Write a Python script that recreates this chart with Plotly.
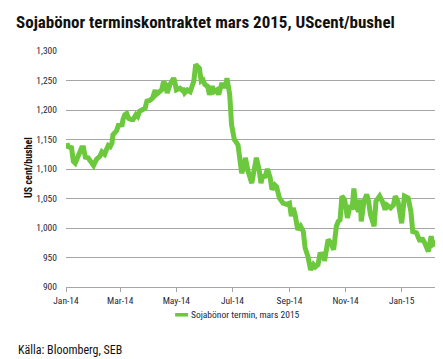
import plotly.graph_objects as go

dates = [
 "2014-01-02","2014-01-03","2014-01-07","2014-01-09","2014-01-11","2014-01-14","2014-01-18","2014-01-20",
 "2014-01-22","2014-01-25","2014-01-29","2014-01-31","2014-02-03","2014-02-07","2014-02-09","2014-02-12",
 "2014-02-14","2014-02-16","2014-02-18","2014-02-20","2014-02-21","2014-02-25","2014-02-27","2014-03-03",
 "2014-03-04","2014-03-06","2014-03-08","2014-03-10","2014-03-13","2014-03-15","2014-03-18","2014-03-20",
 "2014-03-22","2014-03-26","2014-03-28","2014-03-30","2014-04-02","2014-04-05","2014-04-08","2014-04-09",
 "2014-04-12","2014-04-15","2014-04-17","2014-04-19","2014-04-21","2014-04-24","2014-04-28","2014-04-29",
 "2014-05-01","2014-05-05","2014-05-07","2014-05-08","2014-05-10","2014-05-13","2014-05-16","2014-05-18",
 "2014-05-20","2014-05-22","2014-05-24","2014-05-26","2014-05-28","2014-05-30","2014-06-01","2014-06-04",
 "2014-06-06","2014-06-09","2014-06-11","2014-06-14","2014-06-16","2014-06-19","2014-06-22","2014-06-23",
 "2014-06-25","2014-06-28","2014-06-30","2014-07-03","2014-07-07","2014-07-11","2014-07-14","2014-07-15",
 "2014-07-18","2014-07-22","2014-07-25","2014-07-27","2014-07-30","2014-08-01","2014-08-03","2014-08-05",
 "2014-08-08","2014-08-11","2014-08-13","2014-08-16","2014-08-18","2014-08-21","2014-08-25","2014-08-29",
 "2014-09-01","2014-09-03","2014-09-05","2014-09-07","2014-09-10","2014-09-13","2014-09-16","2014-09-18",
 "2014-09-21","2014-09-24","2014-09-27","2014-09-29","2014-10-02","2014-10-04","2014-10-08","2014-10-09",
 "2014-10-13","2014-10-16","2014-10-19","2014-10-22","2014-10-24","2014-10-26","2014-10-28","2014-10-31",
 "2014-11-03","2014-11-06","2014-11-08","2014-11-10","2014-11-12","2014-11-15","2014-11-17","2014-11-18",
 "2014-11-21","2014-11-24","2014-11-26","2014-11-28","2014-12-02","2014-12-04","2014-12-08","2014-12-11",
 "2014-12-14","2014-12-16","2014-12-20","2014-12-23","2014-12-25","2014-12-28","2015-01-01","2015-01-04",
 "2015-01-08","2015-01-11","2015-01-13","2015-01-17","2015-01-21","2015-01-23","2015-01-26","2015-01-30",
 "2015-02-02","2015-02-04","2015-02-07","2015-02-09","2015-02-11","2015-02-14","2015-02-16",
]
prices = [
 1144,1138,1136,1113,1110,1124,1136,1136,
 1120,1119,1110,1106,1116,1122,1129,1125,
 1133,1140,1138,1144,1158,1165,1174,1175,
 1184,1192,1194,1186,1184,1184,1192,1189,
 1198,1200,1203,1215,1216,1220,1234,1226,
 1231,1234,1248,1244,1229,1243,1254,1250,
 1234,1237,1234,1237,1229,1234,1231,1243,
 1249,1277,1274,1271,1249,1251,1243,1240,
 1226,1240,1231,1234,1226,1243,1243,1237,
 1254,1226,1175,1150,1141,1093,1105,1119,
 1096,1076,1102,1119,1099,1076,1090,1085,
 1100,1085,1065,1073,1070,1051,1042,1040,
 1042,1020,1034,1023,997,1003,994,966,
 952,929,938,934,938,955,956,944,
 980,975,963,1003,1011,1014,1054,1048,
 1017,1039,1031,1067,1039,1028,1048,1011,
 1045,1057,1045,1023,1003,1045,1054,1045,
 1031,1039,1034,1039,1054,1045,1008,1054,
 1051,1028,994,992,977,983,975,960,
 986,972,975,969,986,992,999,
]
tick_dates = ["2014-01-01","2014-03-01","2014-05-01","2014-07-01","2014-09-01","2014-11-01","2015-01-01"]
tick_labels = ["Jan-14","Mar-14","May-14","Jul-14","Sep-14","Nov-14","Jan-15"]
y_ticks = [900, 950, 1000, 1050, 1100, 1150, 1200, 1250, 1300]
y_labels = ["900", "950", "1,000", "1,050", "1,100", "1,150", "1,200", "1,250", "1,300"]
series_name = "Sojabönor termin, mars 2015"

GREEN = "#6cc83c"
GRID = "#a6a6a6"
TXT = "#1e2638"
FONT = "Roboto Condensed, sans-serif"

fig = go.Figure()
fig.add_trace(go.Scatter(x=dates, y=prices, mode="lines", name=series_name,
                         line=dict(color=GREEN, width=5), showlegend=False))

L, R, T, B = 57.7, 6.7, 43.3, 80
W, H = 443, 359
pw = W - L - R
ph = H - T - B

def px(x):
    return (x - L) / pw

def py(y):
    return (H - B - y) / ph

fig.update_layout(
    width=W, height=H,
    margin=dict(l=L, r=R, t=T, b=B, pad=0),
    paper_bgcolor="white", plot_bgcolor="white",
    font=dict(family=FONT, size=10, color=TXT),
    title=dict(text="<b>Sojabönor terminskontraktet mars 2015, UScent/bushel</b>",
               x=8 / W, xanchor="left", y=1 - 14.5 / H, yanchor="middle",
               font=dict(family=FONT, size=17, color="#111111")),
    xaxis=dict(type="date", range=["2014-01-01", "2015-02-16"],
               tickvals=tick_dates, ticktext=tick_labels,
               showgrid=False, showline=True, linecolor=GRID, linewidth=1.3,
               ticks="outside", ticklen=4, tickcolor=GRID, tickwidth=1,
               tickfont=dict(size=9.5, color=TXT), zeroline=False),
    yaxis=dict(range=[900, 1300], tickvals=y_ticks, ticktext=y_labels,
               showgrid=True, gridcolor=GRID, gridwidth=1.2,
               showline=False, ticks="", ticklabelstandoff=8,
               tickfont=dict(size=9.5, color=TXT), zeroline=False),
    showlegend=False,
)

fig.add_annotation(text="<b>US cent/bushel</b>", textangle=-90, xref="paper", yref="paper",
                   x=px(20.7), y=py(160), xanchor="center", yanchor="middle", showarrow=False,
                   font=dict(family=FONT, size=10, color="#111111"))
fig.add_shape(type="rect", xref="paper", yref="paper",
              x0=px(167), x1=px(180), y0=py(305), y1=py(308.5),
              fillcolor=GREEN, line=dict(width=0))
fig.add_annotation(text=series_name, xref="paper", yref="paper",
                   x=px(180.5), y=py(306.7), xanchor="left", yanchor="middle", showarrow=False,
                   font=dict(family=FONT, size=9.5, color=TXT))
fig.add_annotation(text="Källa: Bloomberg, SEB", xref="paper", yref="paper",
                   x=px(8), y=py(341.7), xanchor="left", yanchor="middle", showarrow=False,
                   font=dict(family=FONT, size=12, color="#111111"))

fig.write_html("out.html")
